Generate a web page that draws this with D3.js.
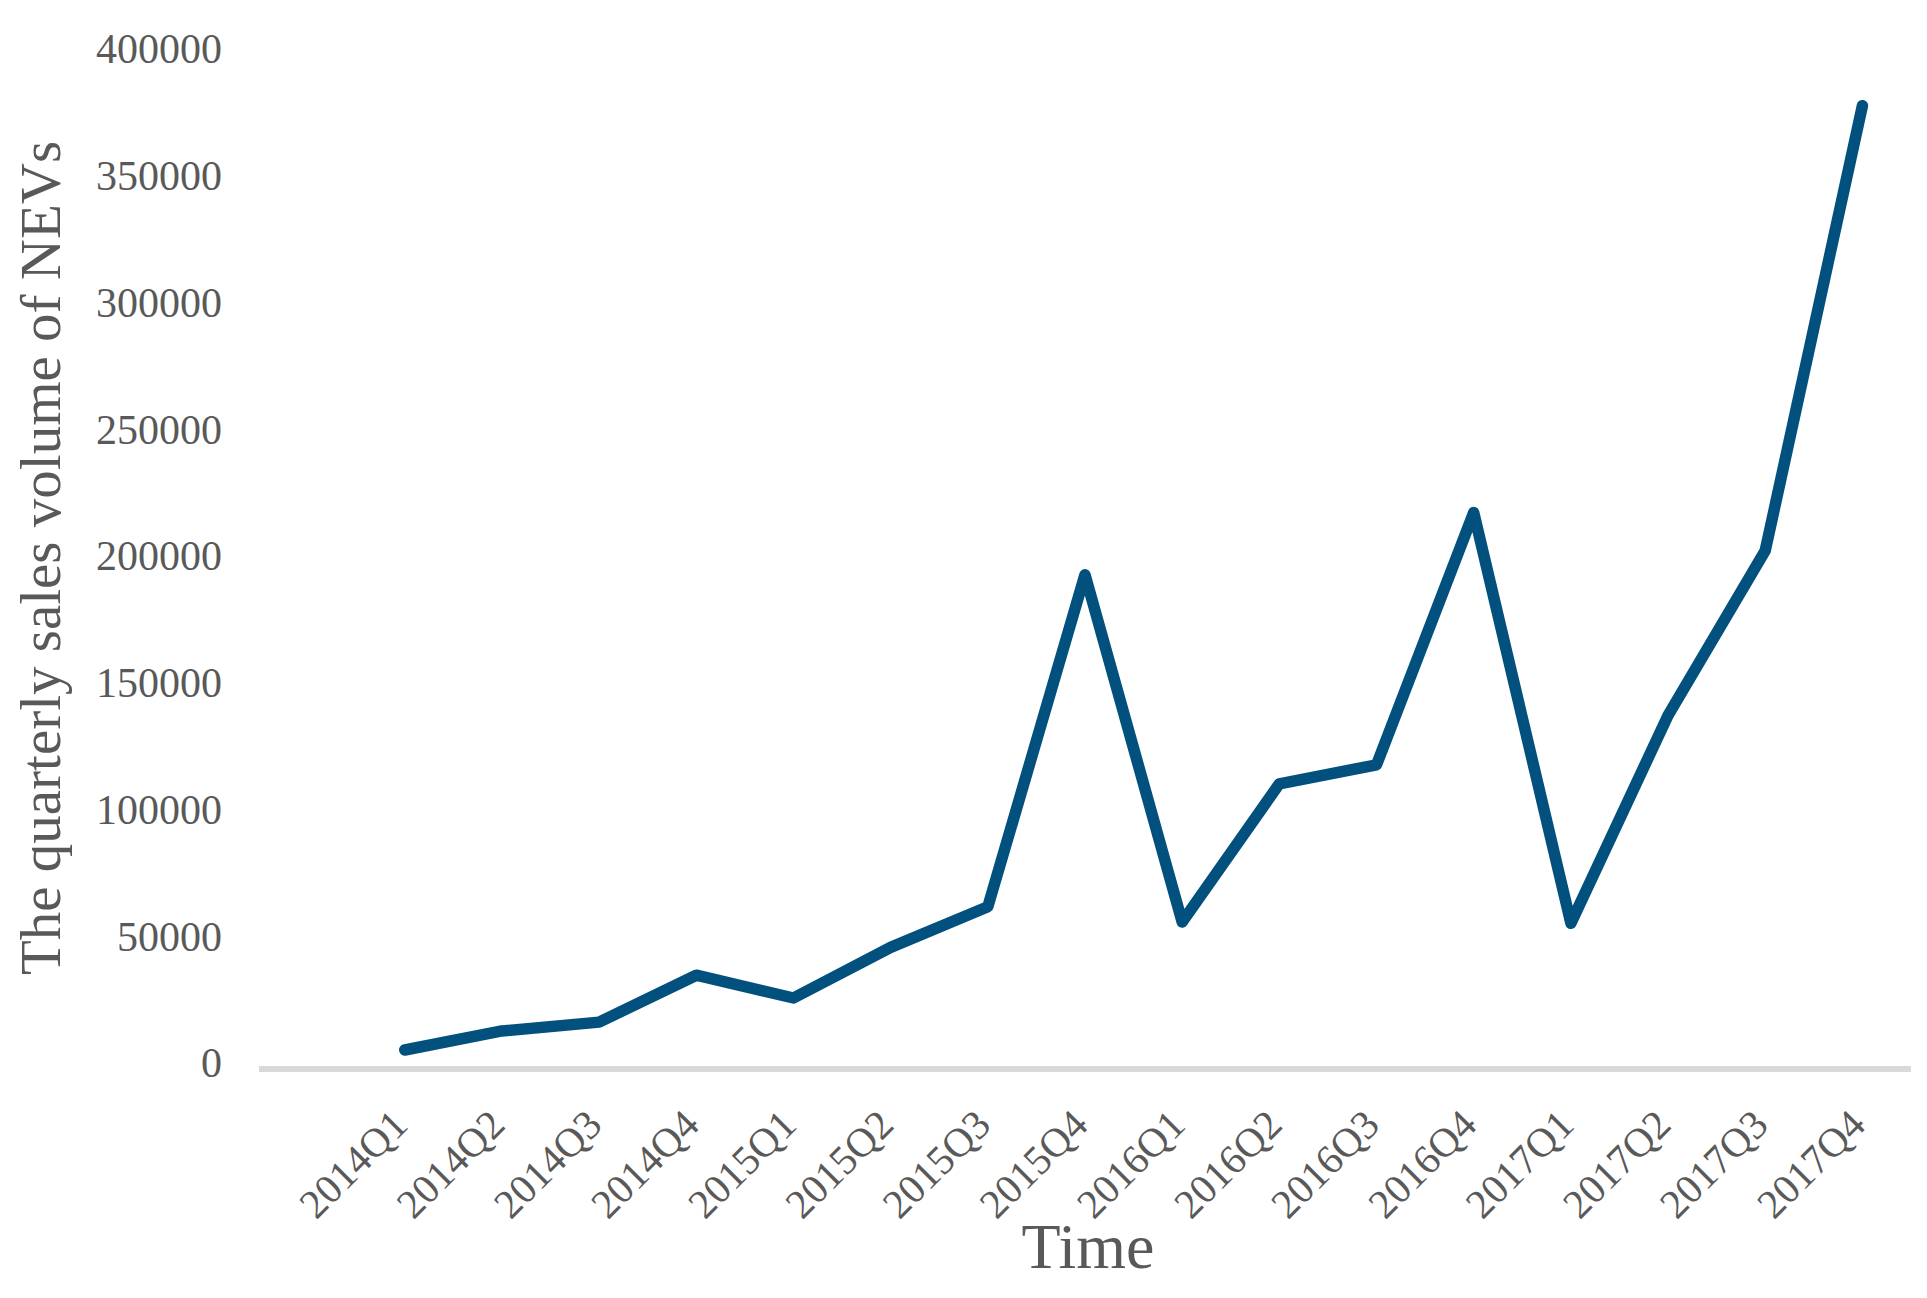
<!DOCTYPE html>
<html>
<head>
<meta charset="utf-8">
<script src="https://cdn.jsdelivr.net/npm/d3@7"></script>
<style>
  html, body { margin: 0; padding: 0; background: #ffffff; }
  svg { display: block; }
  text { font-family: "Times New Roman", "Liberation Serif", serif; }
</style>
</head>
<body>
<svg id="chart" width="1927" height="1298"></svg>
<script>
const categories = ["2014Q1","2014Q2","2014Q3","2014Q4","2015Q1","2015Q2","2015Q3","2015Q4",
                    "2016Q1","2016Q2","2016Q3","2016Q4","2017Q1","2017Q2","2017Q3","2017Q4"];
const salesVolume = [7500, 15000, 18500, 37000, 28000, 48000, 64000, 195000,
                     58000, 112500, 120000, 219500, 57500, 139500, 204500, 380000];
const yTicks = [0, 50000, 100000, 150000, 200000, 250000, 300000, 350000, 400000];
const yTitle = "The quarterly sales volume of NEVs";
const xTitle = "Time";

const svg = d3.select("#chart");
const plotLeft = 259, plotRight = 1911, plotTop = 55, plotBottom = 1069;

// Excel-style category axis with a leading blank slot
const x = d3.scaleBand().domain([""].concat(categories)).range([plotLeft, plotRight]).padding(0);
const y = d3.scaleLinear().domain([0, 400000]).range([plotBottom, plotTop]);
const cx = d => x(d) + x.bandwidth() / 2;

// Y axis labels
const yAxis = svg.append("g").attr("transform", `translate(${plotLeft},0)`)
  .call(d3.axisLeft(y).tickValues(yTicks).tickSize(0).tickPadding(37).tickFormat(d3.format("d")));
yAxis.select(".domain").remove();
yAxis.selectAll("text")
  .attr("dy", "0.19em")
  .style("font-family", '"Times New Roman", "Liberation Serif", serif')
  .style("font-size", "42px")
  .attr("fill", "#595959");

// X axis line
svg.append("line")
  .attr("x1", plotLeft).attr("x2", plotRight)
  .attr("y1", y(0)).attr("y2", y(0))
  .attr("stroke", "#d9d9d9").attr("stroke-width", 6);

// X axis labels
const xAxis = svg.append("g").attr("transform", `translate(0,${y(0)})`)
  .call(d3.axisBottom(x).tickValues(categories).tickSize(0));
xAxis.select(".domain").remove();
xAxis.selectAll("text")
  .attr("x", 0).attr("y", 0).attr("dy", 0)
  .attr("text-anchor", "end")
  .attr("transform", "translate(5,58) rotate(-45)")
  .style("font-family", '"Times New Roman", "Liberation Serif", serif')
  .style("font-size", "41px")
  .attr("fill", "#595959");

// Line
const line = d3.line()
  .x((d, i) => cx(categories[i]))
  .y(d => y(d));
svg.append("path")
  .datum(salesVolume)
  .attr("d", line)
  .attr("fill", "none")
  .attr("stroke", "#02507d")
  .attr("stroke-width", 11.5)
  .attr("stroke-linejoin", "round")
  .attr("stroke-linecap", "round");

// Axis titles
svg.append("text")
  .attr("transform", "translate(60,558) rotate(-90)")
  .attr("text-anchor", "middle")
  .style("font-size", "57px")
  .attr("fill", "#595959")
  .text(yTitle);

svg.append("text")
  .attr("x", 1088).attr("y", 1268)
  .attr("text-anchor", "middle")
  .style("font-size", "64px")
  .attr("fill", "#595959")
  .text(xTitle);
</script>
</body>
</html>
